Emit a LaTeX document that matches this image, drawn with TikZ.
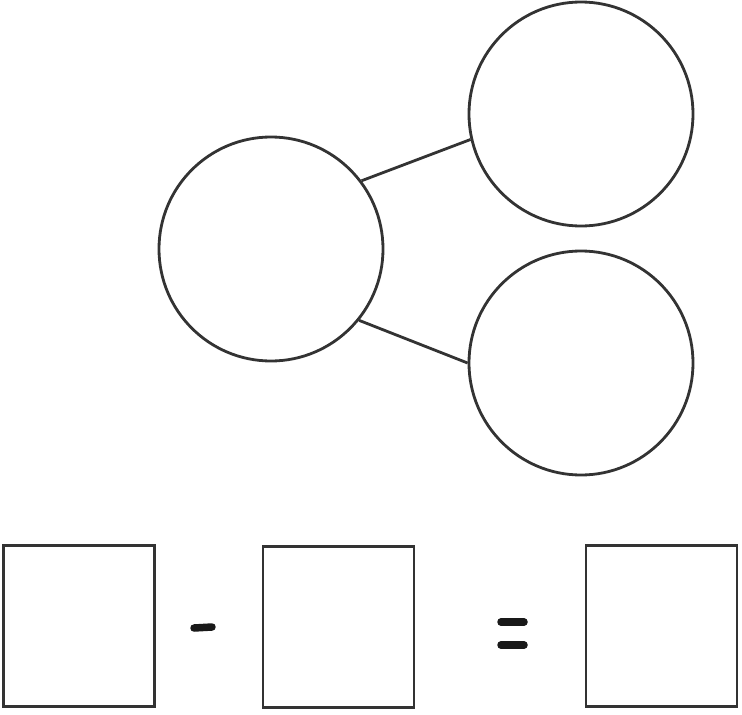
\documentclass[tikz,border=0pt]{standalone}
\begin{document}
\begin{tikzpicture}[x=1pt,y=-1pt,
  ink/.style={draw=black!80, line width=2.8pt},
  bubble/.style={ink, circle, minimum size=224pt, inner sep=0pt},
  slot/.style={ink, rectangle, minimum width=151pt, minimum height=161pt, inner sep=0pt},
  bar/.style={draw=black!90, line width=7.5pt, line cap=round}]
\useasboundingbox (0,0) rectangle (742,715);
\node[bubble] (whole) at (271,249) {};
\node[bubble] (parta) at (581,114) {};
\node[bubble] (partb) at (581,363) {};
\draw[ink] (whole.37) -- (parta.193);
\draw[ink] (whole.-39) -- (partb.180);
\node[slot] (b1) at (79,626) {};
\node[slot] (b2) at (338.5,627) {};
\node[slot] (b3) at (661.5,626) {};
\coordinate (m1) at (194,628);
\coordinate (m2) at (212,627);
\draw[bar] (m1) -- (m2);
\coordinate (e1) at (501,622);
\coordinate (e2) at (524,622);
\coordinate (e3) at (501,645);
\coordinate (e4) at (524,645);
\draw[bar] (e1) -- (e2);
\draw[bar] (e3) -- (e4);
\end{tikzpicture}
\end{document}
